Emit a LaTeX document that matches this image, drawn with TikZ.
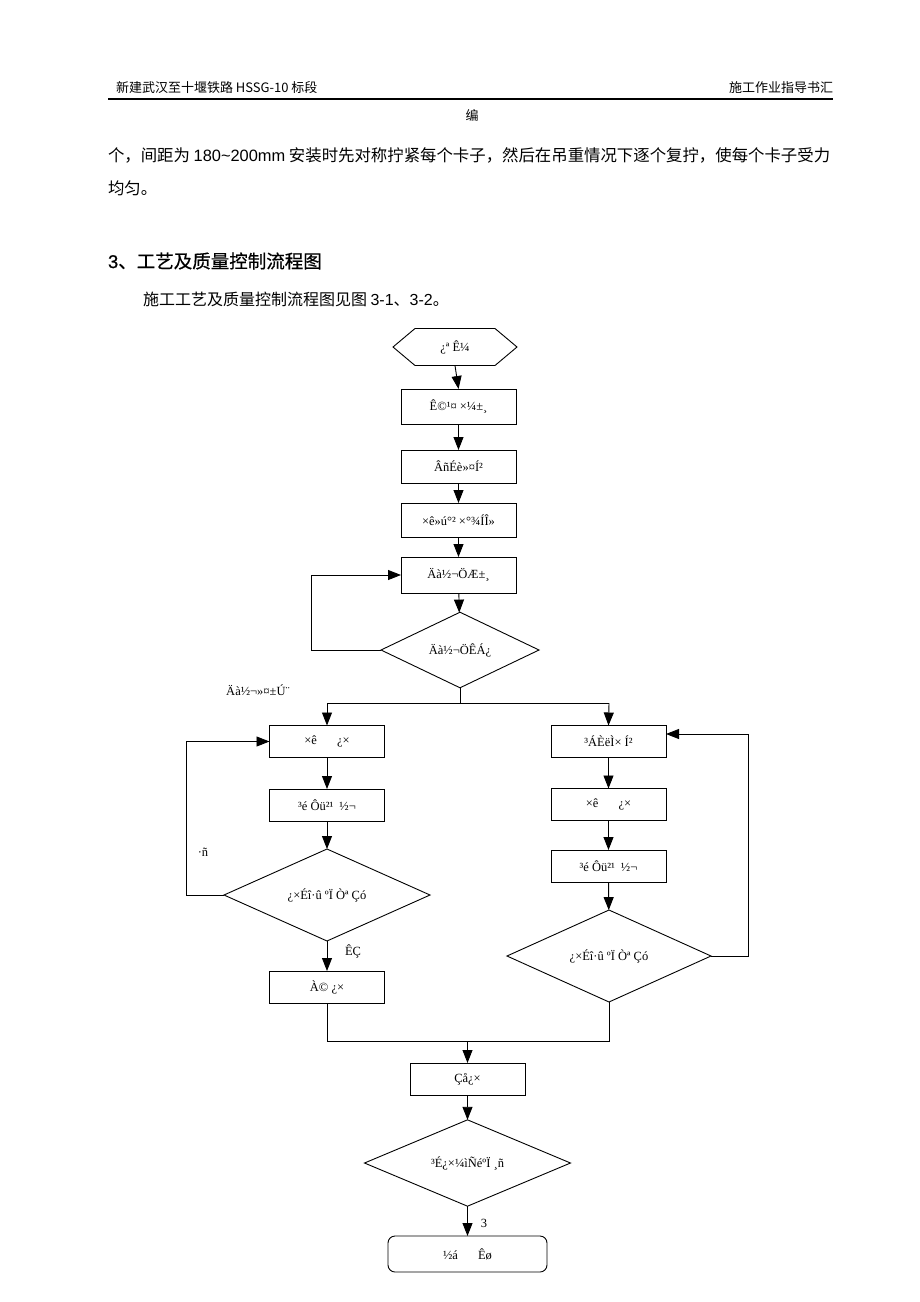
\documentclass[tikz,border=0pt]{standalone}
\usepackage{fontspec}
\setmainfont{Liberation Serif}
\newfontfamily\cjk{Noto Sans CJK SC}
\newfontfamily\cjkh[FakeBold=0.6]{Noto Sans CJK SC}
\newfontfamily\arial{Liberation Sans}
\newfontfamily\arialh[FakeBold=0.6]{Liberation Sans}
\usetikzlibrary{shapes.geometric,arrows.meta}
\newcommand\fsz{\fontsize{12.5}{14}\selectfont}
\begin{document}
\begin{tikzpicture}[x=1pt,y=-1pt,
  every node/.style={inner sep=0pt,outer sep=0pt},
  ln/.style={line width=0.9pt},
  arr/.style={line width=0.9pt,-{Triangle[length=13pt,width=10pt]}},
  fbox/.style={draw,line width=0.9pt,minimum width=115pt,minimum height=33pt,font=\fsz},
  fdia/.style={draw,diamond,line width=0.9pt,font=\fsz},
  lbl/.style={font=\fsz},
  hdr/.style={font=\cjk\fontsize{13}{15}\selectfont},
  body/.style={font=\cjk\fontsize{16.4}{18}\selectfont}]
\useasboundingbox[fill=white] (0,0) rectangle (920,1302);
% header
\node[hdr,anchor=west] (hl) at (116,88) {新建武汉至十堰铁路 HSSG-10 标段};
\node[hdr,anchor=east] (hr) at (833,88) {施工作业指导书汇};
\coordinate (hla) at (108,99);
\coordinate (hlb) at (833,99);
\draw[line width=1.2pt] (hla) -- (hlb);
\node[hdr] (bian) at (472,115) {编};
\node[body,anchor=west] (p1) at (108,155) {个，间距为 {\arial 180\textasciitilde200mm} 安装时先对称拧紧每个卡子，然后在吊重情况下逐个复拧，使每个卡子受力};
\node[body,anchor=west] (p2) at (108,188) {均匀。};
\node[font=\cjkh\fontsize{18.5}{20}\selectfont,anchor=west] (h3) at (108,261) {{\arialh 3}、工艺及质量控制流程图};
\node[font=\cjk\fontsize{16}{18}\selectfont,anchor=west] (p3) at (143,299) {施工工艺及质量控制流程图见图 {\arial 3-1}、{\arial 3-2}。};
% flowchart
\node[minimum width=124pt,minimum height=37pt,font=\fsz] (start) at (455,347) {¿ª Ê¼};
\draw[ln] (start.west) -- ([xshift=22pt]start.north west) -- ([xshift=-22pt]start.north east) -- (start.east) -- ([xshift=-22pt]start.south east) -- ([xshift=22pt]start.south west) -- cycle;
\node[fbox,minimum height=35pt] (b1) at (458.5,406.5) {Ê©¹¤ ×¼±¸};
\node[fbox] (b2) at (458.5,466.5) {ÂñÉè»¤Í²};
\node[fbox,minimum height=34pt] (b3) at (458.5,520) {×ê»ú°² ×°¾ÍÎ»};
\node[fbox,minimum height=36pt] (b4) at (458.5,575) {Äà½¬ÖÆ±¸};
\node[fdia,minimum width=158pt,minimum height=56pt] (d1) at (460,650) {Äà½¬ÖÊÁ¿};
\node[lbl] (lb1) at (258,690) {Äà½¬»¤±Ú¨};
\draw[arr] (start.south) -- (b1.north);
\draw[arr] (b1) -- (b2);
\draw[arr] (b2) -- (b3);
\draw[arr] (b3) -- (b4);
\draw[arr] (b4) -- (d1);
\coordinate (lp1) at (311,650);
\draw[arr] (d1.west) -- (lp1) |- (b4.west);
% split
\coordinate (jm) at (460,703);
\coordinate (jl) at (327,703);
\coordinate (jr) at (609,703);
\draw[ln] (d1.south) -- (jm);
\draw[ln] (jl) -- (jr);
% left column
\node[fbox,minimum height=32pt] (L1) at (327,741.5) {×ê\hspace{20pt}¿×};
\node[fbox,minimum height=32pt] (L2) at (327,805) {³é Ôü²¹\hspace{6pt}½¬};
\node[fdia,minimum width=206pt,minimum height=86pt] (dL) at (327,895) {¿×Éî·û ºÏ Òª Çó};
\node[fbox,minimum height=32pt] (L3) at (327,987) {À© ¿×};
\draw[arr] (jl) -- (L1.north);
\draw[arr] (L1) -- (L2);
\draw[arr] (L2) -- (dL);
\draw[arr] (dL) -- (L3);
\coordinate (lp2) at (186,895);
\draw[arr] (dL.west) -- (lp2) |- (L1.west);
\node[lbl] (no1) at (203,852) {·ñ};
\node[lbl] (yes1) at (353,951) {ÊÇ};
% right column
\node[fbox,minimum height=32pt] (R1) at (608.5,741.5) {³ÁÈëÌ× Í²};
\node[fbox,minimum height=32pt] (R2) at (608.5,804.5) {×ê\hspace{20pt}¿×};
\node[fbox,minimum height=32pt] (R3) at (608.5,866) {³é Ôü²¹\hspace{6pt}½¬};
\node[fdia,minimum width=204pt,minimum height=84pt] (dR) at (609,956) {¿×Éî·û ºÏ Òª Çó};
\draw[arr] (jr) -- (R1.north);
\draw[arr] (R1) -- (R2);
\draw[arr] (R2) -- (R3);
\draw[arr] (R3) -- (dR);
\coordinate (rp1) at (748,956);
\coordinate (rp2) at (748,734);
\draw[arr] (dR.east) -- (rp1) -- (rp2) -- (R1.east |- rp2);
% merge
\coordinate (ml) at (327,1041);
\coordinate (mr) at (609,1041);
\coordinate (mm) at (467.5,1041);
\draw[ln] (L3.south) -- (ml) -- (mr) -- (dR.south);
\node[fbox,minimum height=32pt] (C) at (467.5,1079) {Çå¿×};
\draw[arr] (mm) -- (C.north);
\node[fdia,minimum width=206pt,minimum height=84pt] (dC) at (467.5,1163) {³É¿×¼ìÑéºÏ ¸ñ};
\draw[arr] (C) -- (dC);
\node[draw,line width=0.9pt,rounded corners=7pt,minimum width=159pt,minimum height=36pt,font=\fsz] (T) at (467.5,1254) {½á\hspace{20pt}Êø};
\draw[arr] (dC) -- (T);
\node[lbl] (three) at (484,1223) {3};
\end{tikzpicture}
\end{document}
